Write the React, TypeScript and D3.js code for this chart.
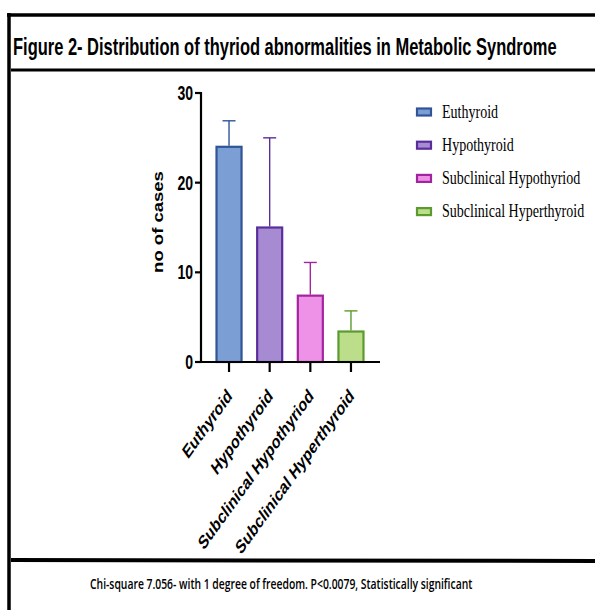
import * as d3 from 'd3';
import React, { useEffect, useRef } from 'react';

// categories, bar means and the upward error (SD)
const categories = [
  'Euthyroid',
  'Hypothyroid',
  'Subclinical Hypothyriod',
  'Subclinical Hyperthyroid'
];
const means = [24, 15, 7.4, 3.4];
const errors = [2.9, 10, 3.7, 2.3];
const yTicks = [0, 10, 20, 30];
const fills = ['#7b9fd4', '#a68bd3', '#ee92e8', '#bcdd8a'];
const strokes = ['#2f5597', '#5a2d9c', '#a3249f', '#5b9a2e'];

const title = 'Figure 2- Distribution of thyriod abnormalities in Metabolic Syndrome';
const footer =
  'Chi-square 7.056- with 1 degree of freedom. P<0.0079, Statistically significant';

const W = 595;
const H = 610;
const SX = 0.72; // the original picture is squeezed sideways

export default function App() {
  const svgRef = useRef<SVGSVGElement | null>(null);

  useEffect(() => {
    const svg = d3.select(svgRef.current);
    svg.selectAll('*').remove();
    svg.attr('width', W).attr('height', H);

    // frame
    const frame = svg.append('g').attr('stroke', '#000');
    frame.append('line').attr('x1', 7).attr('x2', W).attr('y1', 15).attr('y2', 15).attr('stroke-width', 3.5);
    frame.append('line').attr('x1', 9).attr('x2', 9).attr('y1', 13).attr('y2', H).attr('stroke-width', 3.5);
    frame.append('line').attr('x1', 11).attr('x2', W).attr('y1', 70).attr('y2', 70).attr('stroke-width', 3);
    frame.append('line').attr('x1', 11).attr('x2', W).attr('y1', 560).attr('y2', 561).attr('stroke-width', 4);

    // fit a text to a width by squeezing it sideways
    const fitText = (
      txt: string,
      x0: number,
      y0: number,
      width: number,
      family: string,
      weight: string | number,
      size: number
    ) => {
      const t = svg
        .append('text')
        .style('font-family', family)
        .style('font-weight', weight)
        .style('font-size', size + 'px')
        .text(txt);
      const len = (t.node() as SVGTextElement).getComputedTextLength() || width;
      t.attr('transform', `translate(${x0},${y0}) scale(${width / len},1)`);
    };

    fitText(
      title,
      13,
      55,
      544,
      '"Liberation Sans Narrow", "Liberation Sans", Arial, sans-serif',
      'bold',
      23.5
    );
    fitText(footer, 90, 589, 383, '"Open Sans", sans-serif', 600, 14);

    // scales
    const x = d3
      .scaleBand<string>()
      .domain(categories)
      .range([201, 379])
      .paddingInner(0.335)
      .paddingOuter(0.357);
    const y = d3.scaleLinear().domain([0, 30]).range([362, 93]);

    const g = svg.append('g');
    const font = '"Liberation Sans", Arial, sans-serif';

    // bars
    g.selectAll('rect.bar')
      .data(categories)
      .enter()
      .append('rect')
      .attr('class', 'bar')
      .attr('x', (d) => x(d)! + 1)
      .attr('y', (_, i) => y(means[i]))
      .attr('width', x.bandwidth() - 2)
      .attr('height', (_, i) => y(0) - y(means[i]))
      .attr('fill', (_, i) => fills[i])
      .attr('stroke', (_, i) => strokes[i])
      .attr('stroke-width', 2.2);

    // error bars (upper only)
    const eb = g
      .selectAll('g.err')
      .data(categories)
      .enter()
      .append('g')
      .attr('class', 'err')
      .attr('stroke', (_, i) => strokes[i])
      .attr('stroke-width', 1.4);
    eb.append('line')
      .attr('x1', (d) => x(d)! + x.bandwidth() / 2)
      .attr('x2', (d) => x(d)! + x.bandwidth() / 2)
      .attr('y1', (_, i) => y(means[i]) - 1)
      .attr('y2', (_, i) => y(means[i] + errors[i]));
    eb.append('line')
      .attr('x1', (d) => x(d)! + x.bandwidth() / 2 - 6.5)
      .attr('x2', (d) => x(d)! + x.bandwidth() / 2 + 6.5)
      .attr('y1', (_, i) => y(means[i] + errors[i]))
      .attr('y2', (_, i) => y(means[i] + errors[i]));

    // y axis
    const ax = g.append('g').attr('stroke', '#000').attr('stroke-width', 2.2);
    ax.append('line').attr('x1', 201).attr('x2', 201).attr('y1', y(30) - 1).attr('y2', y(0) + 1);
    ax.selectAll('line.yt')
      .data(yTicks)
      .enter()
      .append('line')
      .attr('class', 'yt')
      .attr('x1', 195)
      .attr('x2', 201)
      .attr('y1', (d) => y(d))
      .attr('y2', (d) => y(d));
    g.selectAll('text.yl')
      .data(yTicks)
      .enter()
      .append('text')
      .attr('class', 'yl')
      .attr('transform', (d) => `translate(193,${y(d) + 7}) scale(${SX},1)`)
      .attr('text-anchor', 'end')
      .style('font-family', font)
      .style('font-weight', 'bold')
      .style('font-size', '19.5px')
      .text((d) => d);

    // x axis
    ax.append('line').attr('x1', 200).attr('x2', 380).attr('y1', y(0)).attr('y2', y(0));
    ax.selectAll('line.xt')
      .data(categories)
      .enter()
      .append('line')
      .attr('class', 'xt')
      .attr('x1', (d) => x(d)! + x.bandwidth() / 2)
      .attr('x2', (d) => x(d)! + x.bandwidth() / 2)
      .attr('y1', y(0))
      .attr('y2', y(0) + 10);
    g.selectAll('text.xl')
      .data(categories)
      .enter()
      .append('text')
      .attr('class', 'xl')
      .attr(
        'transform',
        (d) => `translate(${x(d)! + x.bandwidth() / 2 + 4},${y(0) + 35}) scale(${SX},1) rotate(-45)`
      )
      .attr('text-anchor', 'end')
      .style('font-family', font)
      .style('font-weight', 'bold')
      .style('font-size', '19px')
      .text((d) => d);

    // y title
    g.append('text')
      .attr('transform', `translate(163,222) scale(0.8,1) rotate(-90)`)
      .attr('text-anchor', 'middle')
      .style('font-family', font)
      .style('font-weight', 'bold')
      .style('font-size', '18.5px')
      .text('no of cases');

    // legend
    const lg = svg
      .selectAll('g.leg')
      .data(categories)
      .enter()
      .append('g')
      .attr('class', 'leg')
      .attr('transform', (_, i) => `translate(416,${112 + i * 33.2})`);
    lg.append('rect')
      .attr('x', 1)
      .attr('y', -3.5)
      .attr('width', 14)
      .attr('height', 7)
      .attr('fill', (_, i) => fills[i])
      .attr('stroke', (_, i) => strokes[i])
      .attr('stroke-width', 2.2);
    lg.append('text')
      .attr('transform', `translate(26,5.5) scale(0.78,1)`)
      .style('font-family', '"Liberation Serif", "Times New Roman", serif')
      .style('font-size', '18px')
      .text((d) => d);
  }, []);

  return <svg ref={svgRef} style={{ position: 'absolute', left: 0, top: 0, display: 'block' }} />;
}
